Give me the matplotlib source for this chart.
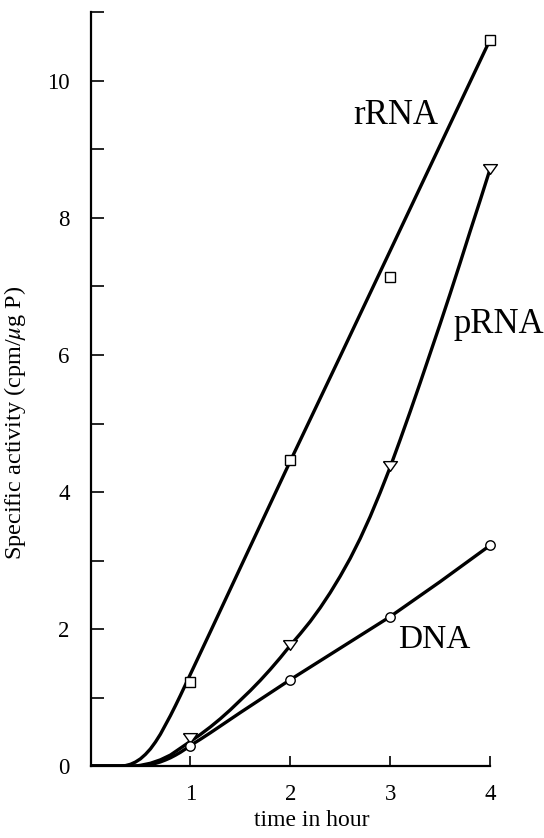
import numpy as np
import matplotlib
matplotlib.use('Agg')
import matplotlib.pyplot as plt

plt.rcParams['font.family'] = ['Liberation Serif', 'DejaVu Serif']
plt.rcParams['mathtext.fontset'] = 'stix'

# measured points (time in hour, specific activity)
t_points = [1, 2, 3, 4]
rrna_points = [1.23, 4.46, 7.14, 10.6]
prna_points = [0.41, 1.77, 4.38, 8.71]
dna_points = [0.29, 1.26, 2.18, 3.22]

# fitted curves
rrna_curve_t = [0, 0.3, 0.35, 0.4, 0.45, 0.5, 0.55, 0.6, 0.65, 0.7, 0.75, 0.8, 0.85, 0.9, 0.95,
                1.0, 1.1, 1.2, 1.5, 2.0, 2.5, 3.0, 3.5, 4.0]
rrna_curve_y = [0, 0, 0.006, 0.025, 0.058, 0.105, 0.17, 0.25, 0.35, 0.465, 0.6, 0.735, 0.88,
                1.03, 1.185, 1.34, 1.65, 1.96, 2.895, 4.45, 5.98, 7.52, 9.06, 10.6]

prna_curve_t = [0, 0.45, 0.5, 0.6, 0.7, 0.8, 0.9, 1.0, 1.1, 1.2, 1.3, 1.4, 1.5, 1.6, 1.7, 1.8, 1.9,
                2.0, 2.1, 2.2, 2.3, 2.4, 2.5, 2.6, 2.7, 2.8, 2.9, 3.0, 3.1, 3.2, 3.3, 3.4, 3.5,
                3.6, 3.7, 3.8, 3.9, 4.0]
prna_curve_y = [0, 0, 0.01, 0.04, 0.09, 0.16, 0.26, 0.36, 0.46, 0.57, 0.69, 0.82, 0.96, 1.1, 1.25,
                1.41, 1.58, 1.76, 1.93, 2.11, 2.31, 2.53, 2.77, 3.03, 3.32, 3.64, 3.99, 4.36, 4.76,
                5.17, 5.59, 6.02, 6.45, 6.89, 7.34, 7.8, 8.25, 8.71]

dna_curve_t = [0, 0.5, 0.55, 0.6, 0.65, 0.7, 0.75, 0.8, 0.85, 0.9, 0.95, 1.0, 1.1, 1.2, 1.5, 2.0,
               2.5, 3.0, 3.5, 4.0]
dna_curve_y = [0, 0, 0.008, 0.02, 0.038, 0.06, 0.088, 0.12, 0.158, 0.2, 0.248, 0.3, 0.39, 0.485,
               0.78, 1.26, 1.72, 2.18, 2.69, 3.22]

yticks = list(range(0, 12))
ytick_labels = ['0', '', '2', '', '4', '', '6', '', '8', '', '10', '']
xticks = [1, 2, 3, 4]

fig = plt.figure(figsize=(5.44, 8.38), dpi=100)
ax = fig.add_axes([0.1664, 0.0859, 0.7343, 0.8992])

lw = 2.4
ax.plot(rrna_curve_t, rrna_curve_y, color='black', lw=lw, zorder=2, solid_joinstyle='round')
ax.plot(prna_curve_t, prna_curve_y, color='black', lw=lw, zorder=2, solid_joinstyle='round')
ax.plot(dna_curve_t, dna_curve_y, color='black', lw=lw, zorder=2, solid_joinstyle='round')

tri = [(-1, 0.7), (1, 0.7), (0, -0.7), (-1, 0.7)]
ax.plot(t_points, rrna_points, ls='none', marker='s', ms=7.2, mfc='white', mec='black',
        mew=1.0, zorder=3, clip_on=False)
ax.plot(t_points, prna_points, ls='none', marker=tri, ms=10, mfc='white', mec='black',
        mew=1.0, zorder=3, clip_on=False)
ax.plot(t_points, dna_points, ls='none', marker='o', ms=6.8, mfc='white', mec='black',
        mew=1.0, zorder=3, clip_on=False)

# labels of the curves
ax.text(3.06, 9.5, 'rRNA', fontsize=25, ha='center', va='center')
ax.text(4.09, 6.44, 'pRNA', fontsize=25, ha='center', va='center')
ax.text(3.44, 1.84, 'DNA', fontsize=24, ha='center', va='center')

ax.set_xlim(0, 4)
ax.set_ylim(0, 11)
ax.spines['top'].set_visible(False)
ax.spines['right'].set_visible(False)
ax.spines['left'].set_linewidth(1.6)
ax.spines['bottom'].set_linewidth(1.6)

ax.set_xticks(xticks)
ax.set_xticklabels([str(x) for x in xticks])
ax.set_yticks(yticks)
ax.set_yticklabels(ytick_labels)
ax.tick_params(axis='y', direction='in', length=9, width=1.2, pad=15, labelsize=16.5)
ax.tick_params(axis='x', direction='in', length=7, width=1.2, pad=13, labelsize=16.5)

ax.set_xlabel('time in hour', fontsize=17, va='top')
ax.xaxis.set_label_coords(0.554, -0.058)
ax.set_ylabel('Specific activity (cpm/$\\mu$g P)', fontsize=17.5)
ax.yaxis.set_label_coords(-0.156, 0.455)

fig.savefig('out.png', dpi=100)
